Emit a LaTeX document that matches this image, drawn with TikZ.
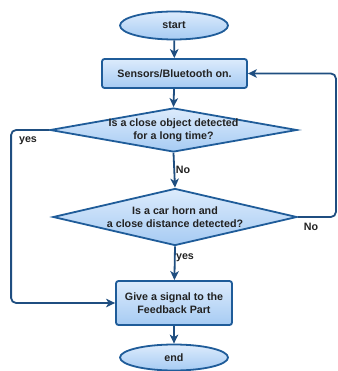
\documentclass[tikz,border=0pt]{standalone}
\usepackage{fontspec}
\setmainfont{Liberation Sans}
\usetikzlibrary{shapes.geometric,arrows.meta}
\definecolor{bordc}{HTML}{1F5C99}
\definecolor{connc}{HTML}{1F4E80}
\definecolor{filltop}{HTML}{DCEBFC}
\definecolor{fillbot}{HTML}{A6CBF3}
\definecolor{txtc}{HTML}{222222}
\tikzset{
  base/.style={draw=bordc, line width=1.8pt, top color=filltop, bottom color=fillbot,
    font=\fontsize{10.7}{13}\selectfont\bfseries, text=txtc, align=center, inner sep=0pt},
  term/.style={base, ellipse, minimum width=108pt, minimum height=28pt},
  procbox/.style={base, rectangle, rounded corners=2.5pt},
  decis/.style={base, diamond},
  conn/.style={draw=connc, line width=1.8pt, -{Stealth[length=9pt,width=8.5pt,inset=2.5pt]}},
  lbl/.style={font=\fontsize{10.7}{13}\selectfont\bfseries, text=txtc, inner sep=0pt}
}
\begin{document}
\begin{tikzpicture}[x=1pt,y=-1pt]
\useasboundingbox (0,0) rectangle (337,371);
\node[term] (start) at (174,25.5) {start};
\node[procbox, minimum width=145pt, minimum height=29pt] (s1) at (174.5,73.5) {Sensors/Bluetooth on.};
\node[decis, minimum width=247pt, minimum height=44pt] (d1) at (173.5,130) {};
\node[lbl, align=center] (d1t) at (d1) {Is a close object detected\\for a long time?};
\node[decis, minimum width=244pt, minimum height=57pt] (d2) at (175,217) {};
\node[lbl, align=center] (d2t) at (d2) {Is a car horn and\\a close distance detected?};
\node[procbox, minimum width=116pt, minimum height=44pt] (fb) at (174,303) {Give a signal to the\\Feedback Part};
\node[term, minimum height=26pt] (stop) at (174,357.5) {end};
\draw[conn] (start) -- (s1);
\draw[conn] (s1) -- (d1.north);
\draw[conn] (d1.south) -- (d2.north);
\draw[conn] (d2.south) -- (fb);
\draw[conn] (fb) -- (stop);
\draw[conn, rounded corners=5pt] (d1.west) -- ++(-38,0) |- (fb.west);
\draw[conn, rounded corners=5pt] (d2.east) -- ++(38,0) |- (s1.east);
\node[lbl] (lyes1) at (28,141) {yes};
\node[lbl] (lno1) at (183,170) {No};
\node[lbl] (lno2) at (311,227) {No};
\node[lbl] (lyes2) at (185,258) {yes};
\end{tikzpicture}
\end{document}
